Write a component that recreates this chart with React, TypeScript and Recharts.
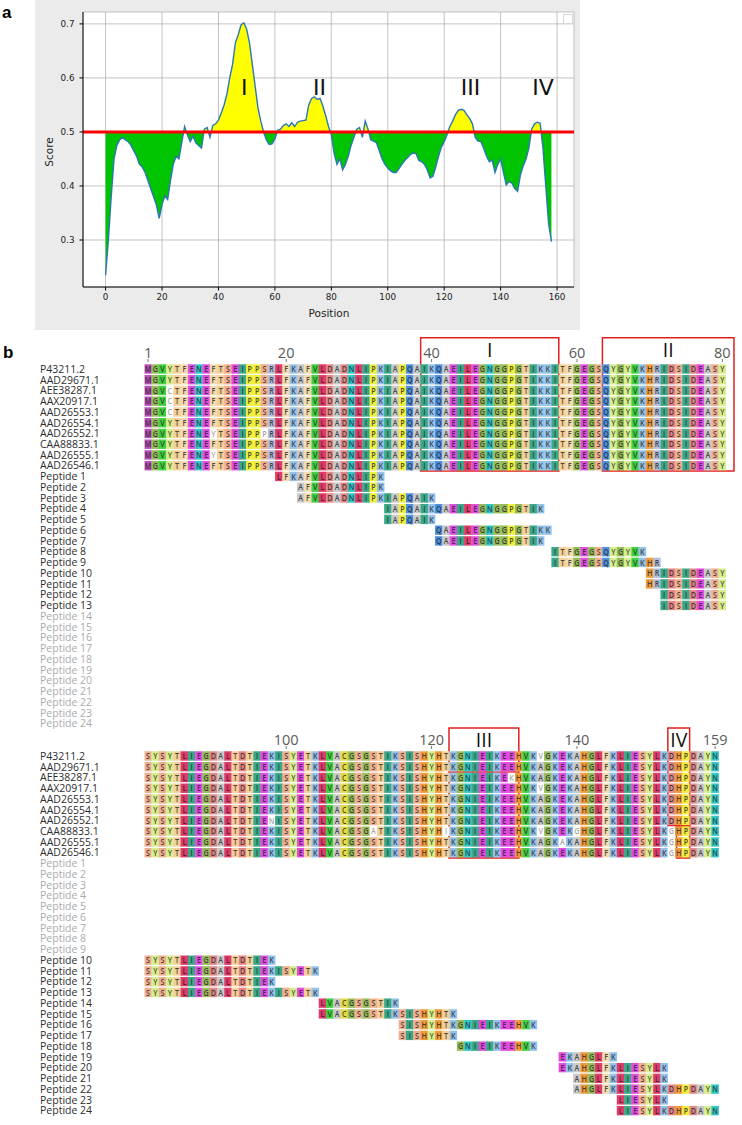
import React from 'react';
import {
  ComposedChart, Area, Line, XAxis, YAxis, CartesianGrid, ReferenceLine, ReferenceDot,
  ScatterChart, Scatter, ReferenceArea,
} from 'recharts';

// ---------------- Panel a data ----------------
const SCORES = [
  0.235, 0.30, 0.38, 0.45, 0.475, 0.485, 0.49, 0.485, 0.482, 0.475,
  0.465, 0.455, 0.44, 0.435, 0.425, 0.41, 0.395, 0.38, 0.365, 0.34,
  0.365, 0.382, 0.375, 0.41, 0.44, 0.455, 0.45, 0.48, 0.51, 0.495,
  0.482, 0.492, 0.48, 0.475, 0.47, 0.505, 0.508, 0.49, 0.512, 0.515,
  0.522, 0.535, 0.55, 0.57, 0.60, 0.625, 0.665, 0.68, 0.698, 0.702,
  0.69, 0.665, 0.625, 0.585, 0.545, 0.52, 0.50, 0.485, 0.477, 0.478,
  0.487, 0.503, 0.505, 0.512, 0.515, 0.51, 0.517, 0.51, 0.518, 0.52,
  0.521, 0.522, 0.55, 0.562, 0.565, 0.56, 0.562, 0.548, 0.53, 0.51,
  0.495, 0.46, 0.44, 0.45, 0.43, 0.44, 0.455, 0.475, 0.49, 0.505,
  0.508, 0.49, 0.52, 0.505, 0.485, 0.483, 0.48, 0.465, 0.45, 0.44,
  0.433, 0.428, 0.425, 0.425, 0.432, 0.44, 0.447, 0.452, 0.458, 0.461,
  0.46, 0.447, 0.445, 0.44, 0.43, 0.415, 0.418, 0.435, 0.455, 0.472,
  0.482, 0.495, 0.51, 0.52, 0.532, 0.54, 0.542, 0.54, 0.532, 0.525,
  0.515, 0.49, 0.483, 0.482, 0.47, 0.455, 0.445, 0.448, 0.425, 0.44,
  0.45, 0.425, 0.402, 0.408, 0.405, 0.395, 0.39, 0.42, 0.437, 0.45,
  0.47, 0.505, 0.515, 0.518, 0.516, 0.47, 0.40, 0.33, 0.297,
];
const POSITION_TICKS = [0, 20, 40, 60, 80, 100, 120, 140, 160];
const POSITION_MINOR = [-5, 5, 10, 15, 25, 30, 35, 45, 50, 55, 65, 70, 75, 85, 90, 95, 105, 110, 115, 125, 130, 135, 145, 150, 155, 165];
const SCORE_TICKS = [0.3, 0.4, 0.5, 0.6, 0.7];
const THRESHOLD = 0.5;
const PEAK_LABELS = [
  { pos: 49.1, score: 0.583, label: 'I' },
  { pos: 75.8, score: 0.583, label: 'II' },
  { pos: 129.3, score: 0.583, label: 'III' },
  { pos: 155, score: 0.583, label: 'IV' },
];

// ---------------- Panel b data ----------------
const ACC_NAMES = ['P43211.2', 'AAD29671.1', 'AEE38287.1', 'AAX20917.1', 'AAD26553.1', 'AAD26554.1', 'AAD26552.1', 'CAA88833.1', 'AAD26555.1', 'AAD26546.1'];
const ACC_SEQS = [
  'MGVYTFENEF' + 'TSEIPPSRLF' + 'KAFVLDADNL' + 'IPKIAPQAIK' + 'QAEILEGNGG' + 'PGTIKKITFG' + 'EGSQYGYVKH' + 'RIDSIDEASY' + 'SYSYTLIEGD' + 'ALTDTIEKIS' + 'YETKLVACGS' + 'GSTIKSISHY' + 'HTKGNIEIKE' + 'EHVKVGKEKA' + 'HGLFKLIESY' + 'LKDHPDAYN',
  'MGVYTFENEF' + 'TSEIPPSRLF' + 'KAFVLDADNL' + 'IPKIAPQAIK' + 'QAEILEGNGG' + 'PGTIKKITFG' + 'EGSQYGYVKH' + 'RIDSIDEASY' + 'SYSYTLIEGD' + 'ALTDTIEKIS' + 'YETKLVACGS' + 'GSTIKSISHY' + 'HTKGNIEIKE' + 'EHVKAGKEKA' + 'HGLFKLIESY' + 'LKDHPDAYN',
  'MGVCTFENEF' + 'TSEIPPSRLF' + 'KAFVLDADNL' + 'IPKIAPQAIK' + 'QAEILEGNGG' + 'PGTIKKITFG' + 'EGSQYGYVKH' + 'RIDSIDEASY' + 'SYSYTLIEGD' + 'ALTDTIEKIS' + 'YETKLVACGS' + 'GSTIKSISHY' + 'HTKGNIEIKE' + 'KHVKAGKEKA' + 'HGLFKLIESY' + 'LKDHPDAYN',
  'MGVCTFENEF' + 'TSEIPPSRLF' + 'KAFVLDADNL' + 'IPKIAPQAIK' + 'QAEILEGNGG' + 'PGTIKKITFG' + 'EGSQYGYVKH' + 'RIDSIDEASY' + 'SYSYTLIEGD' + 'ALTDTIEKIS' + 'YETKLVACGS' + 'GSTIKSISHY' + 'HTKGNIEIKE' + 'EHVKVGKEKA' + 'HGLFKLIESY' + 'LKDHPDAYN',
  'MGVCTFENEF' + 'TSEIPPSRLF' + 'KAFVLDADNL' + 'IPKIAPQAIK' + 'QAEILEGNGG' + 'PGTIKKITFG' + 'EGSQYGYVKH' + 'RIDSIDEASY' + 'SYSYTLIEGD' + 'ALTDTIEKIS' + 'YETKLVACGS' + 'GSTIKSISHY' + 'HTKGNIEIKE' + 'EHVKAGKEKA' + 'HGLFKLIESY' + 'LKDHPDAYN',
  'MGVYTFENEF' + 'TSEIPPSRLF' + 'KAFVLDADNL' + 'IPKIAPQAIK' + 'QAEILEGNGG' + 'PGTIKKITFG' + 'EGSQYGYVKH' + 'RIDSIDEASY' + 'SYSYTLIEGD' + 'ALTDTIEKIS' + 'YETKLVACGS' + 'GSTIKSISHY' + 'HTKGNIEIKE' + 'EHVKAGKEKA' + 'HGLFKLIESY' + 'LKDHPDAYN',
  'MGVYTFENEY' + 'TSEIPPPRLF' + 'KAFVLDADNL' + 'IPKIAPQAIK' + 'QAEILEGNGG' + 'PGTIKKITFG' + 'EGSQYGYVKH' + 'RIDSIDEASY' + 'SYSYTLIEGD' + 'ALTDTIENIS' + 'YETKLVACGS' + 'GSTIKSISHY' + 'HTKGNIEIKE' + 'EHVKAGKEKA' + 'HGLFKLIESY' + 'LKDHPDAYN',
  'MGVYTFENEF' + 'TSEIPPSRLF' + 'KAFVLDADNL' + 'IPKIAPQAIK' + 'QAEILEGNGG' + 'PGTIKKITFG' + 'EGSQYGYVKH' + 'RIDSIDEASY' + 'SYSYTLIEGD' + 'ALTDTIEKIS' + 'YETKLVACGS' + 'GATIKSISHY' + 'HIKGNIEIKE' + 'EHVKVGKEKG' + 'HGLFKLIESY' + 'LKGHPDAYN',
  'MGVYTFENEY' + 'TSEIPPSRLF' + 'KAFVLDADNL' + 'IPKIAPQAIK' + 'QAEILEGNGG' + 'PGTIKKITFG' + 'EGSQYGYVKH' + 'RIDSIDEASY' + 'SYSYTLIEGD' + 'ALTDTIEKIS' + 'YETKLVACGS' + 'GSTIKSISHY' + 'HTKGNIEIKE' + 'EHVKAGKAKA' + 'HGLFKLIESY' + 'LKGHPDAYN',
  'MGVYTFENEF' + 'TSEIPPSRLF' + 'KAFVLDADNL' + 'IPKIAPQAIK' + 'QAEILEGNGG' + 'PGTIKKITFG' + 'EGSQYGYVKH' + 'RIDSIDEASY' + 'SYSYTLIEGD' + 'ALTDTIEKIS' + 'YETKLVACGS' + 'GSTIKSISHY' + 'HTKGNIEIKE' + 'EHVKAGKEKA' + 'HGLFKLIESY' + 'LKGHPDAYN',
];
const PEPTIDE_STARTS = [19, 22, 22, 34, 34, 41, 41, 57, 57, 70, 70, 72, 72, 105, 105, 116, 116, 124, 138, 138, 140, 140, 146, 146];
const PEPTIDE_SEQS = [
  'LFKAFVLDADNLIPK', 'AFVLDADNLIPK', 'AFVLDADNLIPKIAPQAIK', 'IAPQAIKQAEILEGNGGPGTIK', 'IAPQAIK',
  'QAEILEGNGGPGTIKK', 'QAEILEGNGGPGTIK', 'ITFGEGSQYGYVK', 'ITFGEGSQYGYVKHR',
  'HRIDSIDEASYSYSYTLIEGDALTDTIEK', 'HRIDSIDEASYSYSYTLIEGDALTDTIEKISYETK',
  'IDSIDEASYSYSYTLIEGDALTDTIEK', 'IDSIDEASYSYSYTLIEGDALTDTIEKISYETK',
  'LVACGSGSTIK', 'LVACGSGSTIKSISHYHTK', 'SISHYHTKGNIEIKEEHVK', 'SISHYHTK', 'GNIEIKEEHVK',
  'EKAHGLFK', 'EKAHGLFKLIESYLK', 'AHGLFKLIESYLK', 'AHGLFKLIESYLKDHPDAYN', 'LIESYLK', 'LIESYLKDHPDAYN',
];
const PEPTIDE_NAMES = PEPTIDE_SEQS.map((_, i) => `Peptide ${i + 1}`);
const BLOCK1_TICKS = [1, 20, 40, 60, 80];
const BLOCK2_TICKS = [100, 120, 140, 159];
const BLOCK1_REGIONS = [
  { label: 'I', x1: 38.5, x2: 57.5, y1: -2.9, y2: 9.5 },
  { label: 'II', x1: 63.5, x2: 81.6, y1: -2.9, y2: 9.5 },
];
const BLOCK2_REGIONS = [
  { label: 'III', x1: 122.4, x2: 132.0, y1: -2.6, y2: 9.5 },
  { label: 'IV', x1: 152.5, x2: 155.5, y1: -2.6, y2: 6.5 },
  { label: '', x1: 153.7, x2: 155.5, y1: 6.5, y2: 9.5 },
];

const AA_COLORS: Record<string, string> = {
  M: '#b84cb8', E: '#e24ae2', G: '#96bd5a', V: '#3ed03e', Y: '#d6ef8c', T: '#f6cf98',
  F: '#f3dbae', N: '#30c6c6', S: '#f0ae90', I: '#3aa886', P: '#efef3c', R: '#b4bed8',
  L: '#e03a6a', K: '#94c2ea', A: '#c9c9c9', D: '#e48686', Q: '#4c8fe0', H: '#f09c3c',
  C: '#e6da44', W: '#c8a0f0',
};

// consensus (majority per column)
const SEQ_LEN = ACC_SEQS[0].length;
const CONSENSUS = Array.from({ length: SEQ_LEN }, (_, i) => {
  const counts: Record<string, number> = {};
  ACC_SEQS.forEach((s) => { counts[s[i]] = (counts[s[i]] || 0) + 1; });
  return Object.keys(counts).sort((a, b) => counts[b] - counts[a])[0];
}).join('');

const ROW_NAMES = [...ACC_NAMES, ...PEPTIDE_NAMES];
const N_ROWS = ROW_NAMES.length;

type CellPt = { x: number; y: number; aa: string; ok: boolean };

function buildCells(start: number, end: number): { cells: CellPt[]; active: boolean[] } {
  const cells: CellPt[] = [];
  const active = ROW_NAMES.map(() => false);
  ACC_SEQS.forEach((seq, r) => {
    for (let p = start; p <= end; p++) {
      const aa = seq[p - 1];
      cells.push({ x: p, y: r, aa, ok: aa === CONSENSUS[p - 1] });
    }
    active[r] = true;
  });
  PEPTIDE_SEQS.forEach((seq, k) => {
    const r = ACC_NAMES.length + k;
    const s0 = PEPTIDE_STARTS[k];
    for (let j = 0; j < seq.length; j++) {
      const p = s0 + j;
      if (p >= start && p <= end) {
        cells.push({ x: p, y: r, aa: seq[j], ok: true });
        active[r] = true;
      }
    }
  });
  return { cells, active };
}

// ---------------- layout constants ----------------
const CHART_W = 742;
const Y_AXIS_W = 144.4;
const RIGHT_M = 16;
const TOP_M = 4;
const X_AXIS_H = 28.6;
const BLOCK_H = 398;
const PITCH = (BLOCK_H - TOP_M - X_AXIS_H) / N_ROWS;
const CELL_W = (CHART_W - Y_AXIS_W - RIGHT_M) / 80;
const CELL_H = PITCH - 1.35;
const SANS = '"Open Sans", "Noto Sans", sans-serif';

const CellShape = (props: any) => {
  const { cx, cy, payload } = props;
  if (cx == null || cy == null) return null;
  const bg = payload.ok ? AA_COLORS[payload.aa] || '#ddd' : '#ffffff';
  return (
    <g>
      <rect x={cx - CELL_W / 2 - 0.15} y={cy - CELL_H / 2} width={CELL_W + 0.3} height={CELL_H} fill={bg} />
      <text x={0} y={0} transform={`translate(${cx} ${cy + 3.2}) scale(0.78 1)`} textAnchor="middle" fontSize={9.2}
        fontWeight={600} fontFamily={SANS}
        fill={payload.ok ? '#262626' : '#a8a8a8'} fillOpacity={payload.ok ? 0.82 : 1}>
        {payload.aa}
      </text>
    </g>
  );
};

function AlignmentBlock({ start, end, ticks, regions, top, extra }: any) {
  const { cells, active } = buildCells(start, end);
  const RowTick = (p: any) => {
    const idx = p.payload.value;
    return (
      <text x={40} y={p.y + 3.8} fontSize={10.5} fontFamily={SANS} fill={active[idx] ? '#2e2e2e' : '#ababab'}>
        {ROW_NAMES[idx]}
      </text>
    );
  };
  const NumTick = (p: any) => (
    <g>
      <text x={p.x} y={27.3} textAnchor="middle" fontSize={14.5} fontFamily={SANS} fill="#5a5a5a">{p.payload.value}</text>
      <line x1={p.x} x2={p.x} y1={28} y2={31} stroke="#777" strokeWidth={1} />
    </g>
  );
  return (
    <div style={{ position: 'absolute', left: 0, top, width: CHART_W, height: BLOCK_H }}>
      <ScatterChart width={CHART_W} height={BLOCK_H} margin={{ top: TOP_M, right: RIGHT_M, bottom: 0, left: 0 }}>
        <XAxis type="number" dataKey="x" orientation="top" domain={[start - 0.5, start + 79.5]} ticks={ticks}
          interval={0} height={X_AXIS_H} axisLine={false} tickLine={false} tick={<NumTick />} allowDataOverflow />
        <YAxis type="number" dataKey="y" domain={[-0.5, N_ROWS - 0.5]} reversed ticks={ROW_NAMES.map((_, i) => i)}
          interval={0} width={Y_AXIS_W} axisLine={false} tickLine={false} tick={<RowTick />} allowDataOverflow />
        <Scatter data={cells} shape={<CellShape />} isAnimationActive={false} />
        {regions.map((r: any, i: number) => (
          <ReferenceArea key={i} x1={r.x1} x2={r.x2} y1={r.y1} y2={r.y2} ifOverflow="visible"
            fill="none" fillOpacity={0} stroke="#e0201c" strokeWidth={1.5}
            label={r.label ? { value: r.label, position: 'insideTop', offset: 5, fontSize: 19.5, fill: '#111', fontFamily: SANS } : undefined} />
        ))}
        {extra && extra.map((s: any, i: number) => (
          <ReferenceLine key={'e' + i} segment={[{ x: s.x1, y: s.y }, { x: s.x2, y: s.y }]} ifOverflow="visible"
            stroke="#e0201c" strokeWidth={1.5} />
        ))}
      </ScatterChart>
    </div>
  );
}

// ---------------- Panel a ----------------
function ScorePanel() {
  const data = SCORES.map((s, i) => ({ pos: i, score: s }));
  const max = Math.max(...SCORES);
  const min = Math.min(...SCORES);
  const off = (max - THRESHOLD) / (max - min);
  const DJ = '"DejaVu Sans", sans-serif';
  return (
    <div style={{ position: 'absolute', left: 35, top: 0, width: 545, height: 330, background: '#ebebeb' }}>
      <ComposedChart width={545} height={330} data={data} margin={{ top: 12, right: 6, bottom: 0, left: 8 }}>
        <defs>
          <linearGradient id="splitFill" x1="0" y1="0" x2="0" y2="1">
            <stop offset={off} stopColor="#ffff00" />
            <stop offset={off} stopColor="#00c400" />
          </linearGradient>
        </defs>
        <CartesianGrid fill="#ffffff" stroke="#b4b4b4" strokeWidth={0.8} />
        <XAxis xAxisId="minor" dataKey="pos" type="number" domain={[-8, 166]} ticks={POSITION_MINOR} interval={0}
          tick={false} tickSize={2} axisLine={false} tickLine={{ stroke: '#000' }} height={0} allowDataOverflow />
        <XAxis dataKey="pos" type="number" domain={[-8, 166]} ticks={POSITION_TICKS} interval={0} tickSize={3.5}
          tickMargin={3} tick={{ fontSize: 8.8, fill: '#222', fontFamily: DJ }} axisLine={{ stroke: '#000' }}
          tickLine={{ stroke: '#000' }} height={43} allowDataOverflow
          label={{ content: () => (<text x={294} y={317} textAnchor="middle" fontSize={10.5} fontFamily={DJ} fill="#222">Position</text>) }} />
        <XAxis xAxisId="top" orientation="top" dataKey="pos" type="number" domain={[-8, 166]} tick={false}
          tickLine={false} axisLine={{ stroke: '#000' }} height={0} allowDataOverflow />
        <YAxis type="number" domain={[0.213, 0.722]} ticks={SCORE_TICKS} interval={0} tickSize={3.5} tickMargin={5}
          tickFormatter={(v: number) => v.toFixed(1)} tick={{ fontSize: 8.8, fill: '#222', fontFamily: DJ }}
          axisLine={{ stroke: '#000' }} tickLine={{ stroke: '#000' }} width={40} allowDataOverflow
          label={{ content: () => (<text x={14} y={152} transform="rotate(-90 14 152)" textAnchor="middle" dominantBaseline="central" fontSize={10.5} fontFamily={DJ} fill="#222">Score</text>) }} />
        <YAxis yAxisId="right" orientation="right" type="number" domain={[0.213, 0.722]} tick={false} tickLine={false}
          axisLine={{ stroke: '#000' }} width={0} allowDataOverflow />
        <Area type="linear" dataKey="score" baseValue={THRESHOLD} fill="url(#splitFill)" fillOpacity={1} stroke="none" isAnimationActive={false} />
        <Line type="linear" dataKey="score" stroke="#2b78b4" strokeWidth={1.4} dot={false} isAnimationActive={false} />
        <ReferenceLine y={THRESHOLD} stroke="#ff0000" strokeWidth={3} />
        {PEAK_LABELS.map((p) => (
          <ReferenceDot key={p.label} x={p.pos} y={p.score} r={0} fill="none" stroke="none"
            label={{ value: p.label, position: 'center', fontSize: 22, fill: '#111', fontFamily: DJ }} />
        ))}
      </ComposedChart>
      <div style={{ position: 'absolute', left: 528, top: 14, width: 8, height: 8, border: '1px solid #d8d8d8', background: '#fff' }} />
    </div>
  );
}

export default function App() {
  return (
    <div style={{ position: 'relative', width: 742, height: 1125, background: '#fff', overflow: 'hidden' }}>
      <style>{'body{margin:0;background:#fff;}'}</style>
      <div style={{ position: 'absolute', left: 2, top: 3, fontSize: 17, fontWeight: 700, fontFamily: '"Liberation Sans", Arial, sans-serif' }}>a</div>
      <div style={{ position: 'absolute', left: 3, top: 343, fontSize: 17, fontWeight: 700, fontFamily: '"Liberation Sans", Arial, sans-serif' }}>b</div>
      <ScorePanel />
      <AlignmentBlock start={1} end={80} ticks={BLOCK1_TICKS} regions={BLOCK1_REGIONS} top={330.5} />
      <AlignmentBlock start={81} end={159} ticks={BLOCK2_TICKS} regions={BLOCK2_REGIONS} top={717.8}
        extra={[{ x1: 122.4, x2: 132.0, y: 1.5 }]} />
    </div>
  );
}
